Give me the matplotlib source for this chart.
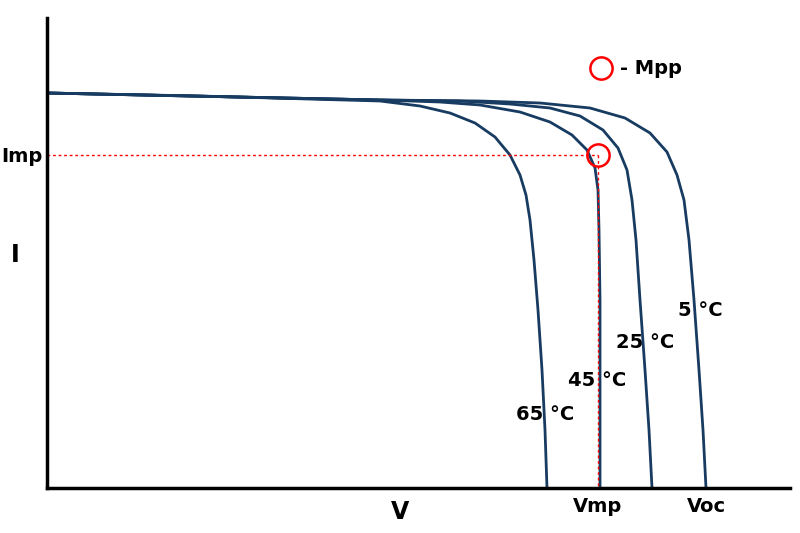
import matplotlib
matplotlib.use("Agg")
import matplotlib.pyplot as plt

# curve points (x, y) in figure-pixel-like units
temps = ["65 °C", "45 °C", "25 °C", "5 °C"]
curve_x = [
    [47,200,380,420,450,475,495,510,520,526,530,534,538,542,545,547],
    [47,380,440,480,520,550,572,587,595,598,599,600,600,600],
    [47,380,460,510,550,580,603,618,627,632,636,640,645,649,652],
    [47,380,480,540,590,625,650,667,677,684,689,694,699,703,706],
]
curve_y = [
    [93,96,101,106,113,123,137,155,175,195,220,260,310,370,430,488],
    [93,100,102,105,112,122,135,150,168,190,230,300,400,488],
    [93,100,101,104,108,116,130,148,170,200,240,300,370,430,488],
    [93,100,101,103,108,118,133,152,175,200,240,300,370,430,488],
]
label_pos = [(545,415),(597,380),(645,342),(700,310)]
mpp = (598,155)

fig = plt.figure(figsize=(8,5.33), dpi=100)
ax = fig.add_axes([47/800, 45/533, 743/800, 470/533])
ax.set_xlim(47,790); ax.set_ylim(488,18)
navy = "#173b61"
for xs, ys in zip(curve_x, curve_y):
    ax.plot(xs, ys, color=navy, lw=2, solid_joinstyle="round", solid_capstyle="butt")
ax.plot([47,mpp[0]],[mpp[1],mpp[1]], color="red", ls=(0,(2,2)), lw=1)
ax.plot([mpp[0],mpp[0]],[mpp[1],488], color="red", ls=(0,(2,2)), lw=1)
ax.plot(*mpp, 'o', ms=16, mfc='none', mec='red', mew=1.8)
ax.plot(601,68, 'o', ms=16, mfc='none', mec='red', mew=1.8, clip_on=False)
ax.text(620,68,"- Mpp", fontsize=14, fontweight='bold', va='center')
for t,(x,y) in zip(temps,label_pos):
    ax.text(x,y,t,fontsize=14,fontweight='bold',ha='center',va='center')
for s in ["top","right"]:
    ax.spines[s].set_visible(False)
for s in ["left","bottom"]:
    ax.spines[s].set_linewidth(2.5)
ax.set_xticks([]); ax.set_yticks([])
fig.text(22/800, 1-157/533, "Imp", fontsize=14, fontweight='bold', ha='center', va='center')
fig.text(15/800, 1-255/533, "I", fontsize=17, fontweight='bold', ha='center', va='center')
fig.text(400/800, 1-512/533, "V", fontsize=17, fontweight='bold', ha='center', va='center')
fig.text(598/800, 1-507/533, "Vmp", fontsize=14, fontweight='bold', ha='center', va='center')
fig.text(706/800, 1-507/533, "Voc", fontsize=14, fontweight='bold', ha='center', va='center')
fig.savefig("out.png", dpi=100)
